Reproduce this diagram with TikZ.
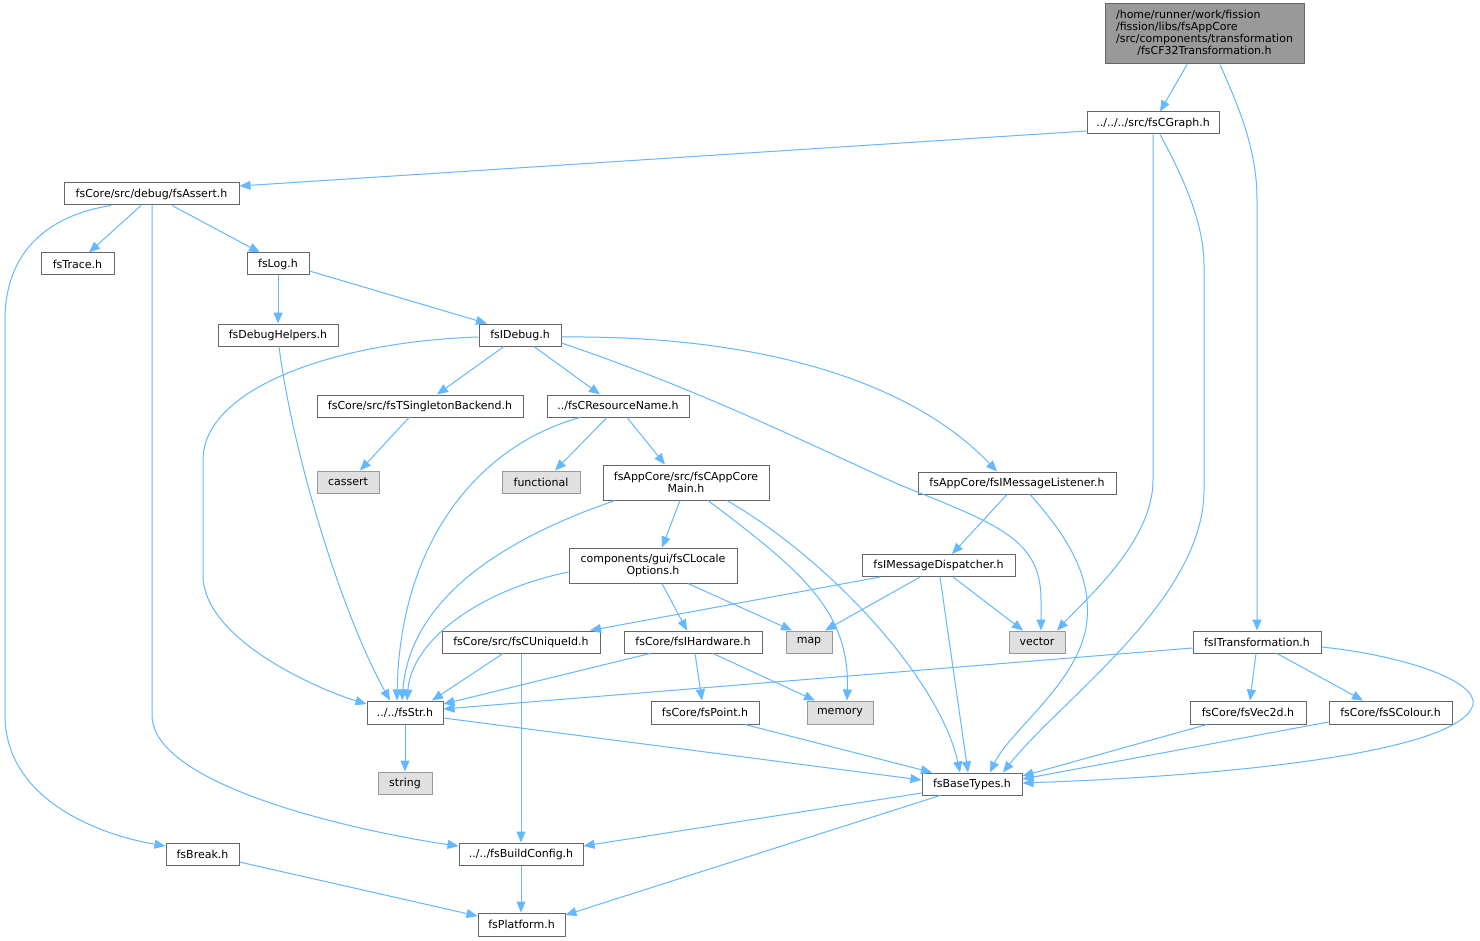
\documentclass[tikz,border=0pt]{standalone}
\usepackage{fontspec}
\setmainfont{DejaVu Sans}
\usetikzlibrary{arrows.meta}
\definecolor{edgeblue}{HTML}{63B8FF}
\definecolor{boxgray}{HTML}{666666}
\definecolor{rootfill}{HTML}{999999}
\definecolor{extfill}{HTML}{E0E0E0}
\definecolor{extborder}{HTML}{999999}
\tikzset{
  box/.style={draw=boxgray, fill=white, line width=1pt, inner sep=0pt, minimum height=22pt,
    font=\fontsize{11}{12}\selectfont, align=center},
  extbox/.style={box, draw=extborder, fill=extfill},
  rootbox/.style={box, fill=rootfill},
  dep/.style={draw=edgeblue, line width=1pt, -{Triangle[length=11pt,width=9pt]}},
}
\begin{document}
\begin{tikzpicture}[x=1pt,y=-1pt]
\path[fill=white] (0,0) rectangle (1480,941);
\useasboundingbox (0,0) rectangle (1480,941);

% nodes
\node[rootbox, minimum width=199pt, minimum height=60pt] (root) at (1204.5,34)
  {\begin{tabular}{@{}l@{}}/home/runner/work/fission\\/fission/libs/fsAppCore\\/src/components/transformation\\\multicolumn{1}{@{}c@{}}{/fsCF32Transformation.h}\end{tabular}};
\node[box, minimum width=132pt] (cgraph) at (1153,123) {../../../src/fsCGraph.h};
\node[box, minimum width=175pt] (assert) at (151.5,194) {fsCore/src/debug/fsAssert.h};
\node[box, minimum width=73pt] (trace) at (77.5,264) {fsTrace.h};
\node[box, minimum width=62pt] (log) at (278,264) {fsLog.h};
\node[box, minimum width=120pt] (dbghelp) at (278,335) {fsDebugHelpers.h};
\node[box, minimum width=82pt] (idebug) at (520,335) {fsIDebug.h};
\node[box, minimum width=206pt] (singleton) at (420,406) {fsCore/src/fsTSingletonBackend.h};
\node[box, minimum width=142pt] (resname) at (618,406) {../fsCResourceName.h};
\node[extbox, minimum width=62pt] (cassert) at (348,482) {cassert};
\node[extbox, minimum width=78pt] (functional) at (541,482) {functional};
\node[box, minimum width=166pt, minimum height=35pt] (appmain) at (686,482.5) {fsAppCore/src/fsCAppCore\\Main.h};
\node[box, minimum width=198pt] (listener) at (1017,483) {fsAppCore/fsIMessageListener.h};
\node[box, minimum width=168pt, minimum height=35pt] (locale) at (653,565.5) {components/gui/fsCLocale\\Options.h};
\node[box, minimum width=153pt] (dispatcher) at (938.5,565.5) {fsIMessageDispatcher.h};
\node[box, minimum width=158pt] (uniqueid) at (521,642) {fsCore/src/fsCUniqueId.h};
\node[box, minimum width=138pt] (hardware) at (693,642) {fsCore/fsIHardware.h};
\node[extbox, minimum width=46pt] (map) at (809,642) {map};
\node[extbox, minimum width=56pt] (vector) at (1037,642) {vector};
\node[box, minimum width=128pt] (itrans) at (1257,642) {fsITransformation.h};
\node[box, minimum width=76pt, minimum height=23pt] (str) at (405,712.5) {../../fsStr.h};
\node[box, minimum width=108pt, minimum height=23pt] (point) at (705,712.5) {fsCore/fsPoint.h};
\node[extbox, minimum width=66pt, minimum height=23pt] (memory) at (840,712.5) {memory};
\node[box, minimum width=116pt, minimum height=23pt] (vec2d) at (1248,712.5) {fsCore/fsVec2d.h};
\node[box, minimum width=123pt, minimum height=23pt] (colour) at (1390.5,712.5) {fsCore/fsSColour.h};
\node[extbox, minimum width=54pt] (string) at (405,783) {string};
\node[box, minimum width=100pt] (basetypes) at (972,784) {fsBaseTypes.h};
\node[box, minimum width=73pt] (break) at (202.5,854) {fsBreak.h};
\node[box, minimum width=124pt] (buildconfig) at (521,854) {../../fsBuildConfig.h};
\node[box, minimum width=87pt, minimum height=23pt] (platform) at (521.5,924.5) {fsPlatform.h};

% edges
\draw[dep] (root.south -| 1187,0) -- (cgraph.north -| 1160,0);
\draw[dep] (root.south -| 1220,0) .. controls (1240,110) and (1257,150) .. (1257,200) -- (itrans.north);
\draw[dep] (cgraph.west |- 0,131) -- (assert.east |- 0,186);
\draw[dep] (cgraph.south -| 1153,0) -- (1153,480) .. controls (1153,540) and (1090,595) .. (vector.north -| 1057,0);
\draw[dep] (cgraph.south -| 1160,0) .. controls (1185,180) and (1204,225) .. (1204,265) -- (1204,490) .. controls (1204,600) and (1060,700) .. (basetypes.north -| 1003,0);
\draw[dep] (assert.south -| 141,0) -- (trace.north -| 89,0);
\draw[dep] (assert.south -| 172,0) -- (log.north -| 260,0);
\draw[dep] (assert.south -| 111,0) .. controls (50,215) and (5,250) .. (5,320) -- (5,715) .. controls (5,800) and (100,835) .. (break.west |- 0,846);
\draw[dep] (assert.south -| 152,0) -- (152,715) .. controls (152,790) and (380,835) .. (buildconfig.west |- 0,846);
\draw[dep] (log.south) -- (dbghelp.north);
\draw[dep] (log.east |- 0,271) -- (idebug.north -| 487,0);
\draw[dep] (dbghelp.south -| 279,0) .. controls (292,450) and (340,610) .. (str.north -| 390,0);
\draw[dep] (idebug.west |- 0,337) .. controls (330,342) and (203,390) .. (203,460) -- (203,575) .. controls (203,640) and (320,690) .. (str.west |- 0,704);
\draw[dep] (idebug.south -| 504,0) -- (singleton.north -| 437,0);
\draw[dep] (idebug.south -| 534,0) -- (resname.north -| 600,0);
\draw[dep] (idebug.east |- 0,343) .. controls (700,390) and (800,440) .. (900,485) .. controls (1000,525) and (1041,540) .. (1041,600) -- (vector.north -| 1041,0);
\draw[dep] (idebug.east |- 0,337) .. controls (780,335) and (920,390) .. (listener.north -| 997,0);
\draw[dep] (singleton.south -| 409,0) -- (cassert.north -| 360,0);
\draw[dep] (resname.south -| 580,0) .. controls (480,445) and (400,540) .. (str.north -| 397,0);
\draw[dep] (resname.south -| 607,0) -- (functional.north -| 555,0);
\draw[dep] (resname.south -| 627,0) -- (appmain.north -| 665,0);
\draw[dep] (appmain.south -| 615,0) .. controls (500,540) and (410,600) .. (str.north -| 402,0);
\draw[dep] (appmain.south -| 680,0) -- (locale.north -| 662,0);
\draw[dep] (appmain.south -| 708,0) .. controls (800,570) and (850,610) .. (memory.north -| 847,0);
\draw[dep] (appmain.south -| 727,0) .. controls (830,560) and (940,680) .. (basetypes.north -| 960,0);
\draw[dep] (locale.west |- 0,572) .. controls (480,590) and (412,640) .. (str.north -| 407,0);
\draw[dep] (locale.south -| 662,0) -- (hardware.north -| 687,0);
\draw[dep] (locale.south -| 688,0) -- (map.north -| 792,0);
\draw[dep] (listener.south -| 1007,0) -- (dispatcher.north -| 952,0);
\draw[dep] (listener.south -| 1030,0) .. controls (1075,545) and (1090,580) .. (1087,620) .. controls (1082,680) and (1010,730) .. (basetypes.north -| 990,0);
\draw[dep] (dispatcher.south -| 880,0) -- (uniqueid.north -| 590,0);
\draw[dep] (dispatcher.south -| 920,0) -- (map.north -| 825,0);
\draw[dep] (dispatcher.south -| 953,0) -- (vector.north -| 1023,0);
\draw[dep] (dispatcher.south -| 940,0) -- (basetypes.north -| 968,0);
\draw[dep] (uniqueid.south -| 503,0) -- (str.north -| 432,0);
\draw[dep] (uniqueid.south -| 521,0) -- (buildconfig.north -| 521,0);
\draw[dep] (hardware.south -| 650,0) -- (str.east |- 0,704);
\draw[dep] (hardware.south -| 695,0) -- (point.north -| 702,0);
\draw[dep] (hardware.south -| 713,0) -- (memory.north -| 815,0);
\draw[dep] (itrans.west |- 0,648) -- (str.east |- 0,709);
\draw[dep] (itrans.south -| 1256,0) -- (vec2d.north -| 1250,0);
\draw[dep] (itrans.south -| 1277,0) -- (colour.north -| 1363,0);
\draw[dep] (itrans.east |- 0,647) .. controls (1400,655) and (1478,680) .. (1473,705) .. controls (1460,750) and (1250,775) .. (basetypes.east |- 0,783);
\draw[dep] (str.south) -- (string.north);
\draw[dep] (str.east |- 0,718) -- (basetypes.west |- 0,780);
\draw[dep] (point.south -| 745,0) -- (basetypes.north -| 932,0);
\draw[dep] (vec2d.south -| 1207,0) -- (basetypes.east |- 0,776);
\draw[dep] (colour.west |- 0,722) -- (basetypes.east |- 0,779);
\draw[dep] (basetypes.west |- 0,793) -- (buildconfig.east |- 0,846);
\draw[dep] (basetypes.south -| 940,0) -- (platform.east |- 0,915);
\draw[dep] (buildconfig.south) -- (platform.north -| 521,0);
\draw[dep] (break.east |- 0,862) -- (platform.west |- 0,916);
\end{tikzpicture}
\end{document}
